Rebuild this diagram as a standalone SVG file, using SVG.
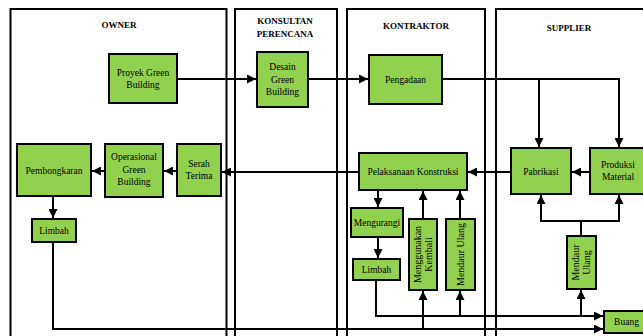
<svg xmlns="http://www.w3.org/2000/svg" width="643" height="336" viewBox="0 0 643 336">
<style>
.col{fill:none;stroke:#000;stroke-width:2}
.node{fill:#92D050;stroke:#000;stroke-width:2}
.t{font-family:"Liberation Serif","Times New Roman",serif;font-size:9.5px;fill:#000;text-anchor:middle}
.tr{font-family:"Liberation Serif","Times New Roman",serif;font-size:10px;fill:#000;text-anchor:middle}
.h{font-family:"Liberation Serif","Times New Roman",serif;font-size:9px;font-weight:bold;fill:#000;text-anchor:middle}
.c{fill:none;stroke:#000;stroke-width:2}
</style>
<defs>
<marker id="arr" markerUnits="userSpaceOnUse" markerWidth="9" markerHeight="9" refX="9" refY="4.5" orient="auto">
<path d="M0,0 L9,4.5 L0,9 z" fill="#000"/>
</marker>
</defs>
<rect width="643" height="336" fill="#fff"/>
<g id="lanes">
<rect class="col" x="10.5" y="9" width="216" height="340"/>
<rect class="col" x="235" y="9" width="102" height="340"/>
<rect class="col" x="347" y="9" width="138" height="340"/>
<rect class="col" x="496" y="9" width="160" height="340"/>
<text class="h" x="119" y="28">OWNER</text>
<text class="h" x="285" y="24">KONSULTAN</text>
<text class="h" x="285" y="37">PERENCANA</text>
<text class="h" x="416" y="29">KONTRAKTOR</text>
<text class="h" x="569" y="31">SUPPLIER</text>
</g>
<g id="connectors">
<path class="c" d="M177,79 H256" marker-end="url(#arr)"/>
<path class="c" d="M308,79 H368" marker-end="url(#arr)"/>
<path class="c" d="M442,79 H539 V147" marker-end="url(#arr)"/>
<path class="c" d="M539,79 H619 V147" marker-end="url(#arr)"/>
<path class="c" d="M590,172 H572" marker-end="url(#arr)"/>
<path class="c" d="M490,172 H511"/>
<path class="c" d="M511,172 H468" marker-end="url(#arr)"/>
<path class="c" d="M359,172 H222" marker-end="url(#arr)"/>
<path class="c" d="M177,171 H164" marker-end="url(#arr)"/>
<path class="c" d="M105,171 H92" marker-end="url(#arr)"/>
<path class="c" d="M53,196 V218" marker-end="url(#arr)"/>
<path class="c" d="M53,242 V329 H603" marker-end="url(#arr)"/>
<path class="c" d="M378,190 V207" marker-end="url(#arr)"/>
<path class="c" d="M378,237 V258" marker-end="url(#arr)"/>
<path class="c" d="M376,280 V316 H603" marker-end="url(#arr)"/>
<path class="c" d="M423,329 V291" marker-end="url(#arr)"/>
<path class="c" d="M460,316 V291" marker-end="url(#arr)"/>
<path class="c" d="M423,219 V191" marker-end="url(#arr)"/>
<path class="c" d="M460,219 V191" marker-end="url(#arr)"/>
<path class="c" d="M581,316 V290" marker-end="url(#arr)"/>
<path class="c" d="M581,236 V221 H541 V195" marker-end="url(#arr)"/>
<path class="c" d="M581,221 H619 V195" marker-end="url(#arr)"/>
</g>
<g id="proyek"><rect class="node" x="109" y="54" width="68" height="49"/><text class="t" x="143" y="75.5">Proyek Green</text><text class="t" x="143" y="87.5">Building</text></g>
<g id="desain"><rect class="node" x="257" y="52" width="51" height="55"/><text class="t" x="282.5" y="70">Desain</text><text class="t" x="282.5" y="83">Green</text><text class="t" x="282.5" y="95">Building</text></g>
<g id="pengadaan"><rect class="node" x="369" y="55" width="73" height="49"/><text class="t" x="405.5" y="83">Pengadaan</text></g>
<g id="pabrikasi"><rect class="node" x="511" y="148" width="60" height="46"/><text class="t" x="541" y="175">Pabrikasi</text></g>
<g id="produksi"><rect class="node" x="590" y="148" width="58" height="46"/><text class="t" x="618" y="168">Produksi</text><text class="t" x="618" y="180">Material</text></g>
<g id="pelaksanaan"><rect class="node" x="359" y="153" width="108" height="37"/><text class="t" x="413" y="175">Pelaksanaan Konstruksi</text></g>
<g id="serah"><rect class="node" x="177" y="144" width="44" height="52"/><text class="t" x="199" y="167">Serah</text><text class="t" x="199" y="179">Terima</text></g>
<g id="operasional"><rect class="node" x="105" y="144" width="58" height="53"/><text class="t" x="134" y="160">Operasional</text><text class="t" x="134" y="172.5">Green</text><text class="t" x="134" y="185">Building</text></g>
<g id="pembongkaran"><rect class="node" x="17" y="144" width="74" height="52"/><text class="t" x="54" y="174">Pembongkaran</text></g>
<g id="limbah-owner"><rect class="node" x="32" y="219" width="44" height="23"/><text class="t" x="54" y="234">Limbah</text></g>
<g id="mengurangi"><rect class="node" x="351" y="208" width="52" height="29"/><text class="t" x="377" y="226">Mengurangi</text></g>
<g id="limbah-kontraktor"><rect class="node" x="353" y="259" width="47" height="21"/><text class="t" x="376.5" y="273">Limbah</text></g>
<g id="menggunakan"><rect class="node" x="409" y="219" width="28" height="71"/><g transform="translate(423,254.5) rotate(-90)"><text class="tr" x="0" y="-2">Menggunakan</text><text class="tr" x="0" y="9">Kembali</text></g></g>
<g id="mendaur-kontraktor"><rect class="node" x="446" y="219" width="29" height="71"/><g transform="translate(460.5,254.5) rotate(-90)"><text class="tr" x="0" y="3.5">Mendaur Ulang</text></g></g>
<g id="mendaur-supplier"><rect class="node" x="567" y="236" width="29" height="53"/><g transform="translate(581.5,262.5) rotate(-90)"><text class="tr" x="0" y="-2.5">Mendaur</text><text class="tr" x="0" y="8.5">Ulang</text></g></g>
<g id="buang"><rect class="node" x="604" y="311" width="46" height="22"/><text class="t" x="626.5" y="325">Buang</text></g>
</svg>
